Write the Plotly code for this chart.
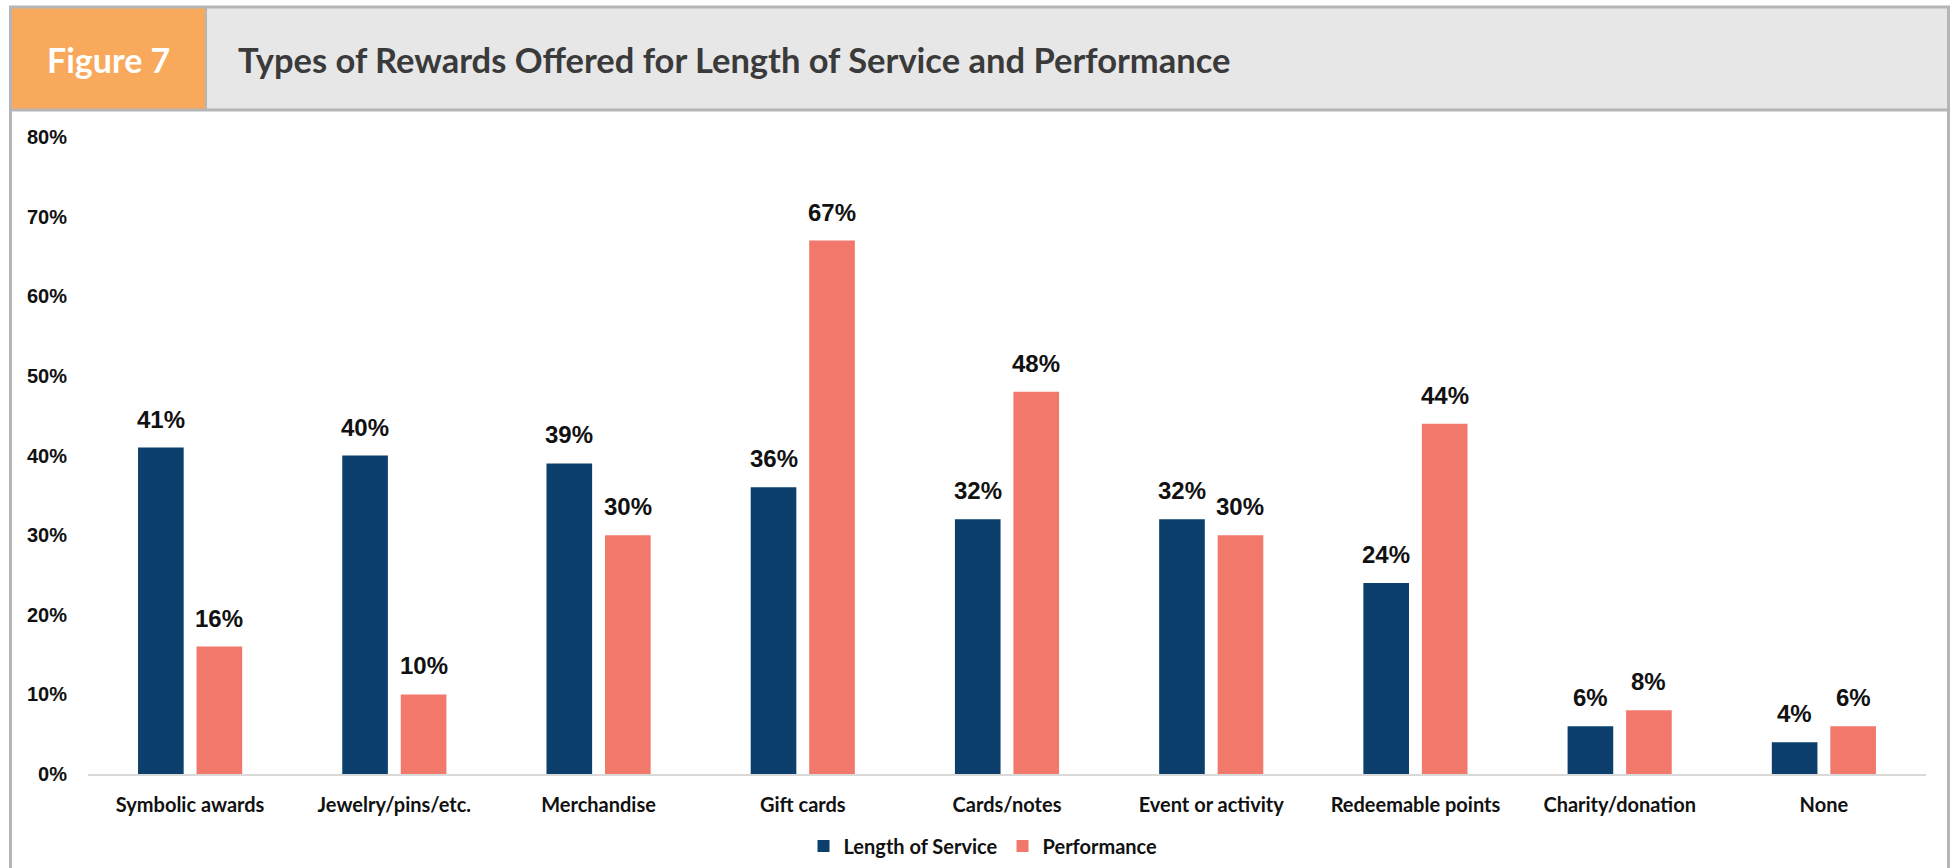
import plotly.graph_objects as go

# Survey results: share of organisations offering each reward type (%)
categories = [
    "Symbolic awards", "Jewelry/pins/etc.", "Merchandise", "Gift cards",
    "Cards/notes", "Event or activity", "Redeemable points",
    "Charity/donation", "None",
]
length_of_service = [41, 40, 39, 36, 32, 32, 24, 6, 4]
performance = [16, 10, 30, 67, 48, 30, 44, 8, 6]
y_ticks = [0, 10, 20, 30, 40, 50, 60, 70, 80]

NAVY = "#0c3f6b"
SALMON = "#f2786b"
ORANGE = "#f8a95b"
HEADER_GREY = "#e7e7e7"
FRAME = "#b5b5b5"

W, H = 1955, 868
M_L, M_R, M_T, M_B = 88, 29, 137, 94
PW, PH = W - M_L - M_R, H - M_T - M_B


def px(x):
    return (x - M_L) / PW


def py(y):
    return (H - M_B - y) / PH


fig = go.Figure()
fig.add_trace(go.Bar(name="Length of Service", x=categories, y=length_of_service,
                     marker=dict(color=NAVY, line=dict(width=0))))
fig.add_trace(go.Bar(name="Performance", x=categories, y=performance,
                     marker=dict(color=SALMON, line=dict(width=0))))

# value labels above each bar
slot = PW / len(categories) * (1 - 0.427) / 2
annotations = []
for series, shift in ((length_of_service, -slot / 2), (performance, slot / 2)):
    for cat, v in zip(categories, series):
        annotations.append(dict(
            x=cat, y=v, xref="x", yref="y", text=f"{v}%", showarrow=False,
            xshift=shift, yshift=13, yanchor="bottom",
            font=dict(family="Liberation Sans, Arial, sans-serif", size=24, color="#111111"),
        ))

# header band
annotations.append(dict(
    x=px(108), y=py(60), xref="paper", yref="paper", text="<b>Figure 7</b>",
    showarrow=False, xanchor="center", yanchor="middle",
    font=dict(family="Lato, sans-serif", size=34, color="white"),
))
annotations.append(dict(
    x=px(236), y=py(60), xref="paper", yref="paper",
    text="<b>Types of Rewards Offered for Length of Service and Performance</b>",
    showarrow=False, xanchor="left", yanchor="middle",
    font=dict(family="Lato, sans-serif", size=34.5, color="#3a3a3a"),
))

shapes = [
    dict(type="rect", xref="paper", yref="paper", x0=px(10), x1=px(206), y0=py(7), y1=py(110),
         fillcolor=ORANGE, line=dict(width=0), layer="below"),
    dict(type="rect", xref="paper", yref="paper", x0=px(206), x1=px(1949), y0=py(7), y1=py(110),
         fillcolor=HEADER_GREY, line=dict(width=0), layer="below"),
    # frame lines
    dict(type="line", xref="paper", yref="paper", x0=px(9), x1=px(1950), y0=py(7), y1=py(7),
         line=dict(color=FRAME, width=3)),
    dict(type="line", xref="paper", yref="paper", x0=px(9), x1=px(1950), y0=py(110), y1=py(110),
         line=dict(color=FRAME, width=3)),
    dict(type="line", xref="paper", yref="paper", x0=px(206), x1=px(206), y0=py(7), y1=py(110),
         line=dict(color=FRAME, width=2)),
    dict(type="line", xref="paper", yref="paper", x0=px(10.5), x1=px(10.5), y0=py(6), y1=py(870),
         line=dict(color=FRAME, width=3)),
    dict(type="line", xref="paper", yref="paper", x0=px(1948.5), x1=px(1948.5), y0=py(6), y1=py(870),
         line=dict(color=FRAME, width=3)),
]

fig.update_layout(
    width=W, height=H,
    margin=dict(l=M_L, r=M_R, t=M_T, b=M_B, pad=0, autoexpand=False),
    paper_bgcolor="white", plot_bgcolor="white",
    barmode="group", bargap=0.427, bargroupgap=0.22,
    showlegend=True,
    legend=dict(orientation="h", x=px(983), y=py(846), xanchor="center", yanchor="middle",
                font=dict(family="Lato, sans-serif", size=20, color="#111111"),
                itemwidth=30, traceorder="normal"),
    annotations=annotations,
    shapes=shapes,
    xaxis=dict(showgrid=False, zeroline=False, showline=True, linecolor="#d9d9d9", linewidth=2,
               ticks="", ticklabelstandoff=12, automargin=False,
               tickfont=dict(family="Lato, sans-serif", size=20, color="#111111")),
    yaxis=dict(range=[0, 80], tickmode="array", tickvals=y_ticks,
               ticktext=[f"{t}%" for t in y_ticks], showgrid=False, zeroline=False,
               showline=False, ticks="", ticklabelstandoff=20, automargin=False,
               tickfont=dict(family="Liberation Sans, Arial, sans-serif", size=20, color="#111111")),
)

# render labels in bold
fig.update_xaxes(tickfont_weight="bold")
fig.update_yaxes(tickfont_weight="bold")
fig.update_layout(legend_font_weight="bold")
for a in fig.layout.annotations:
    a.font.weight = "bold"

fig.write_html("out.html")
